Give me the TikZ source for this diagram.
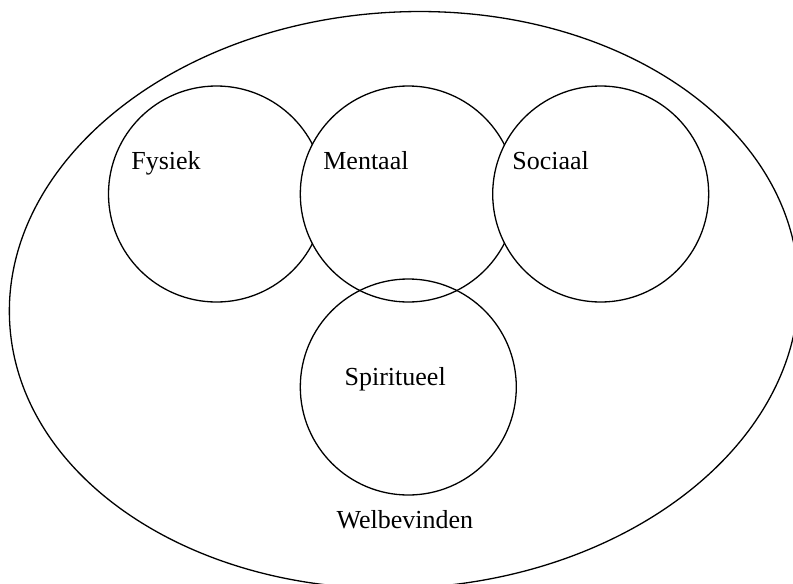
\documentclass[tikz,border=0pt]{standalone}
\usepackage{fontspec}
\setmainfont{Liberation Serif}
\usepackage{tikz}
\usetikzlibrary{positioning, shapes.geometric}

\begin{document}
\begin{tikzpicture}[
    x=1pt, y=-1pt,
    font=\fontsize{26pt}{30pt}\selectfont,
    line width=1.3pt,
    area/.style={
        draw,
        circle,
        inner sep=0pt,
        minimum size=216pt
    },
    covered/.style={
        area,
        fill=white
    },
    lbl/.style={
        inner sep=0pt,
        anchor=base west
    }
]
\useasboundingbox (0,0) rectangle (793,584);

% Outer boundary
\node[draw, ellipse, inner sep=0pt, minimum width=790pt, minimum height=576pt, rotate=3.5] (geheel) at (404,300) {};

% Top row
\node[covered] (fysiek) at (216.5,194) {};
\node[covered] (mentaal) at (408.3,194) {};
\node[covered] (sociaal) at (600.7,194) {};

% Bottom circle
\node[area] (spiritueel) at (408.3,387) {};

% Labels
\node[lbl] (fysiektxt) at (130.7,169) {Fysiek};
\node[lbl] (mentaaltxt) at (322.7,169) {Mentaal};
\node[lbl] (sociaaltxt) at (511.7,169) {Sociaal};
\node[lbl] (spiritueeltxt) at (344,385) {Spiritueel};
\node[lbl] (welbevinden) at (336,528) {Welbevinden};

\end{tikzpicture}
\end{document}
